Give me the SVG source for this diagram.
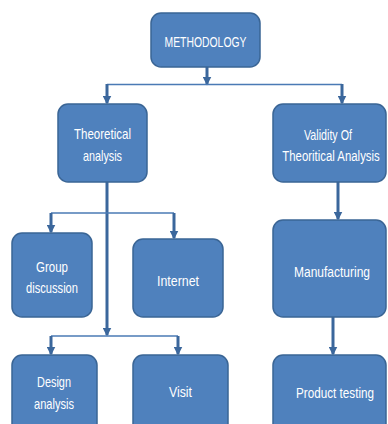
<svg xmlns="http://www.w3.org/2000/svg" width="388" height="424" viewBox="0 0 388 424">
  <defs>
    <marker id="arrow" viewBox="0 0 6 6" refX="5" refY="3" markerWidth="3" markerHeight="3" orient="auto" markerUnits="strokeWidth">
      <path d="M0,0 L6,3 L0,6 z" fill="#3B679C"/>
    </marker>
    <style>
      .box { fill: #4F81BD; stroke: #3A6595; stroke-width: 1.5; }
      .label { fill: #FFFFFF; font-family: "Liberation Sans", Arial, sans-serif; font-size: 15px; text-anchor: middle; }
      .bus { stroke: #4A7AB5; stroke-width: 1.5; fill: none; }
      .drop { stroke: #3B679C; stroke-width: 3; fill: none; }
    </style>
  </defs>
  <rect width="388" height="424" fill="#FFFFFF"/>

  <!-- connectors -->
  <g id="connectors">
    <!-- from METHODOLOGY -->
    <line class="drop" x1="207" y1="67" x2="207" y2="84" marker-end="url(#arrow)"/>
    <line class="bus" x1="107" y1="84.5" x2="342" y2="84.5"/>
    <line class="drop" x1="107" y1="84" x2="107" y2="103" marker-end="url(#arrow)"/>
    <line class="drop" x1="342" y1="84" x2="342" y2="103" marker-end="url(#arrow)"/>
    <!-- from Theoretical analysis -->
    <line class="drop" x1="107" y1="182" x2="107" y2="335" marker-end="url(#arrow)"/>
    <line class="bus" x1="51" y1="213" x2="174" y2="213"/>
    <line class="drop" x1="51" y1="213" x2="51" y2="232" marker-end="url(#arrow)"/>
    <line class="drop" x1="174" y1="213" x2="174" y2="238" marker-end="url(#arrow)"/>
    <line class="bus" x1="51" y1="336" x2="178" y2="336"/>
    <line class="drop" x1="51" y1="336" x2="51" y2="354" marker-end="url(#arrow)"/>
    <line class="drop" x1="178" y1="336" x2="178" y2="354" marker-end="url(#arrow)"/>
    <!-- right column -->
    <line class="drop" x1="338" y1="182" x2="338" y2="219" marker-end="url(#arrow)"/>
    <line class="drop" x1="333" y1="317" x2="333" y2="354" marker-end="url(#arrow)"/>
  </g>

  <g id="methodology">
    <rect class="box" x="151" y="13" width="109" height="54" rx="10"/>
    <text class="label" x="205.5" y="47" textLength="82" lengthAdjust="spacingAndGlyphs">METHODOLOGY</text>
  </g>

  <g id="theoretical-analysis">
    <rect class="box" x="58" y="104" width="89" height="78" rx="10"/>
    <text class="label" x="102.5" y="139" textLength="57" lengthAdjust="spacingAndGlyphs">Theoretical</text>
    <text class="label" x="102.5" y="161" textLength="39" lengthAdjust="spacingAndGlyphs">analysis</text>
  </g>

  <g id="validity">
    <rect class="box" x="273" y="104" width="113" height="78" rx="10"/>
    <text class="label" x="328" y="140" textLength="48" lengthAdjust="spacingAndGlyphs">Validity Of</text>
    <text class="label" transform="translate(331 161) scale(0.76 1)">Theoritical Analysis</text>
  </g>

  <g id="group-discussion">
    <rect class="box" x="12" y="233" width="80" height="84" rx="10"/>
    <text class="label" x="52" y="272" textLength="32" lengthAdjust="spacingAndGlyphs">Group</text>
    <text class="label" x="52" y="293" textLength="52" lengthAdjust="spacingAndGlyphs">discussion</text>
  </g>

  <g id="internet">
    <rect class="box" x="133" y="239" width="90" height="78" rx="10"/>
    <text class="label" x="178" y="286" textLength="42" lengthAdjust="spacingAndGlyphs">Internet</text>
  </g>

  <g id="manufacturing">
    <rect class="box" x="273" y="220" width="113" height="97" rx="10"/>
    <text class="label" x="332" y="277" textLength="76" lengthAdjust="spacingAndGlyphs">Manufacturing</text>
  </g>

  <g id="design-analysis">
    <rect class="box" x="12" y="355" width="85" height="84" rx="10"/>
    <text class="label" x="54" y="387" textLength="34" lengthAdjust="spacingAndGlyphs">Design</text>
    <text class="label" x="54" y="409" textLength="40" lengthAdjust="spacingAndGlyphs">analysis</text>
  </g>

  <g id="visit">
    <rect class="box" x="133" y="355" width="95" height="84" rx="10"/>
    <text class="label" x="180.5" y="397" textLength="23" lengthAdjust="spacingAndGlyphs">Visit</text>
  </g>

  <g id="product-testing">
    <rect class="box" x="273" y="355" width="113" height="84" rx="10"/>
    <text class="label" transform="translate(335 398) scale(0.78 1)">Product testing</text>
  </g>
</svg>
